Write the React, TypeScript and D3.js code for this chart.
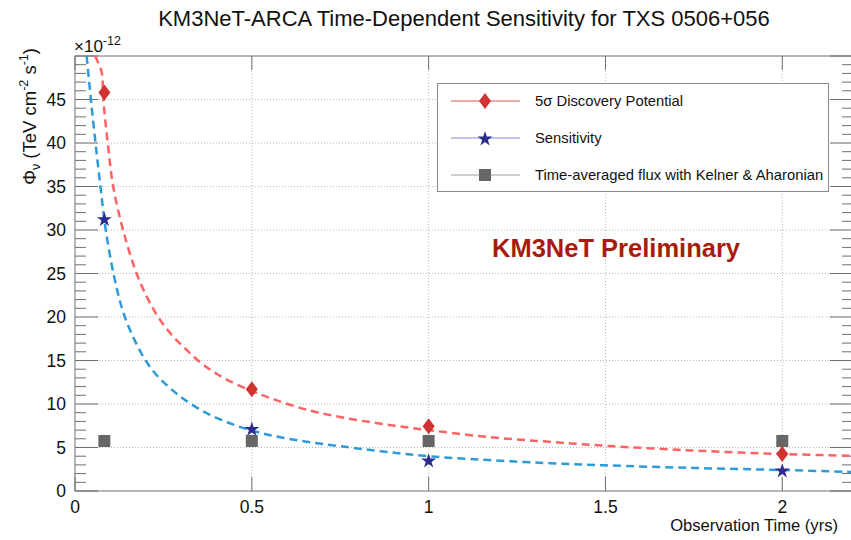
import * as d3 from "d3";

// observation times (yrs) of the computed points
const obsTimes = [0.083, 0.5, 1, 2];
const discovery = [45.8, 11.7, 7.45, 4.25];
const sensitivity = [31.3, 7.2, 3.56, 2.41];
const timeAveraged = [5.75, 5.75, 5.75, 5.75];

// dashed fit curves
const discFitX = [0.0565, 0.075, 0.08, 0.094, 0.108, 0.136, 0.179, 0.226, 0.27, 0.311, 0.36, 0.42, 0.5, 0.565, 0.65, 0.749, 0.87, 1.0, 1.17, 1.342, 1.5, 1.75, 2.0, 2.2];
const discFitY = [50, 48.2, 45, 39.5, 35, 30, 24.5, 20.6, 18.1, 16.4, 14.6, 13.0, 11.5, 10.5, 9.4, 8.5, 7.7, 7.0, 6.2, 5.65, 5.2, 4.65, 4.25, 4.05];
const sensFitX = [0.033, 0.045, 0.058, 0.072, 0.087, 0.113, 0.141, 0.188, 0.225, 0.264, 0.31, 0.37, 0.43, 0.5, 0.565, 0.65, 0.749, 0.87, 1.0, 1.17, 1.342, 1.5, 1.75, 2.0, 2.2];
const sensFitY = [50, 45, 40, 35, 30, 24.2, 20, 15.8, 13.6, 12, 10.5, 9.0, 7.9, 6.95, 6.3, 5.7, 5.15, 4.55, 4.0, 3.55, 3.2, 2.95, 2.65, 2.41, 2.18];

const xTicks = [0, 0.5, 1, 1.5, 2];
const xTickLabels = ["0", "0.5", "1", "1.5", "2"];
const yMajor = [0, 5, 10, 15, 20, 25, 30, 35, 40, 45];
const yMinor = d3.range(0, 51, 1);

const legendLabels = ["5σ Discovery Potential", "Sensitivity", "Time-averaged flux with Kelner & Aharonian"];

const W = 851;
const H = 540;
const frame = { left: 75, right: 853, top: 56, bottom: 491 };
const font = "'Liberation Sans', Arial, Helvetica, sans-serif";

const axisColor = "#6e6e6e";
const redFit = "#ff6262";
const blueFit = "#2e9bd8";
const redMark = "#d33232";
const blueMark = "#2c2c8e";
const grayMark = "#666666";

function Diamond({ x, y }: { x: number; y: number }) {
  return <path d={`M${x},${y - 8}L${x + 6},${y}L${x},${y + 8}L${x - 6},${y}Z`} fill={redMark} />;
}

function Star({ x, y }: { x: number; y: number }) {
  const d = d3.symbol(d3.symbolStar, 70)()!;
  return <path d={d} transform={`translate(${x},${y + 1})`} fill={blueMark} />;
}

function Square({ x, y }: { x: number; y: number }) {
  return <rect x={x - 6} y={y - 6} width={12} height={12} fill={grayMark} />;
}

export default function App() {
  const x = d3.scaleLinear().domain([0, 2.2]).range([frame.left, frame.right]);
  const y = d3.scaleLinear().domain([0, 50]).range([frame.bottom, frame.top]);

  const line = d3
    .line<[number, number]>()
    .x((d) => x(d[0]))
    .y((d) => y(d[1]))
    .curve(d3.curveCatmullRom.alpha(0.5));

  const discPath = line(discFitX.map((v, i) => [v, discFitY[i]]))!;
  const sensPath = line(sensFitX.map((v, i) => [v, sensFitY[i]]))!;

  const legendRows = [101, 138, 175];

  return (
    <svg width={W} height={H} style={{ position: "absolute", left: 0, top: 0, background: "#fff" }} fontFamily={font}>
      <defs>
        <clipPath id="frameClip">
          <rect x={frame.left} y={frame.top} width={frame.right - frame.left} height={frame.bottom - frame.top} />
        </clipPath>
      </defs>

      {/* title */}
      <text x={464} y={26} textAnchor="middle" fontSize={22} fill="#111">
        KM3NeT-ARCA Time-Dependent Sensitivity for TXS 0506+056
      </text>

      {/* grid */}
      <g stroke="#b8b8b8" strokeWidth={1} strokeDasharray="1,2">
        {xTicks.slice(1).map((t) => (
          <line key={"gx" + t} x1={x(t)} x2={x(t)} y1={frame.top} y2={frame.bottom} />
        ))}
        {yMajor.slice(1).map((t) => (
          <line key={"gy" + t} x1={frame.left} x2={frame.right} y1={y(t)} y2={y(t)} />
        ))}
      </g>

      {/* frame */}
      <rect
        x={frame.left}
        y={frame.top}
        width={frame.right - frame.left}
        height={frame.bottom - frame.top}
        fill="none"
        stroke={axisColor}
        strokeWidth={1}
      />

      {/* ticks */}
      <g stroke={axisColor} strokeWidth={1}>
        {yMinor.map((t) => {
          const len = t % 5 === 0 ? 23 : 11;
          return (
            <g key={"ty" + t}>
              <line x1={frame.left} x2={frame.left + len} y1={y(t)} y2={y(t)} />
              <line x1={frame.right} x2={frame.right - len} y1={y(t)} y2={y(t)} />
            </g>
          );
        })}
        {xTicks.map((t) => (
          <g key={"tx" + t}>
            <line x1={x(t)} x2={x(t)} y1={frame.bottom} y2={frame.bottom - 14} />
            <line x1={x(t)} x2={x(t)} y1={frame.top} y2={frame.top + 14} />
          </g>
        ))}
      </g>

      {/* tick labels */}
      <g fontSize={17.5} fill="#111">
        {yMajor.map((t) => (
          <text key={"ly" + t} x={frame.left - 9} y={y(t) + 6} textAnchor="end">
            {t}
          </text>
        ))}
        {xTicks.map((t, i) => (
          <text key={"lx" + t} x={x(t)} y={frame.bottom + 22} textAnchor="middle">
            {xTickLabels[i]}
          </text>
        ))}
      </g>

      {/* exponent */}
      <text x={74} y={52} fontSize={17} fill="#111">
        ×10<tspan dy={-7} fontSize={12.5}>-12</tspan>
      </text>

      {/* axis titles */}
      <text x={838} y={531} textAnchor="end" fontSize={16.6} fill="#111">
        Observation Time (yrs)
      </text>
      <text transform="translate(36,48) rotate(-90)" textAnchor="end" fontSize={18.5} fill="#111">
        Φ<tspan fontSize={12.5} dy={4}>ν</tspan>
        <tspan dy={-4}> (TeV cm</tspan>
        <tspan fontSize={12.5} dy={-8}>-2</tspan>
        <tspan dy={8}> s</tspan>
        <tspan fontSize={12.5} dy={-8}>-1</tspan>
        <tspan dy={8}>)</tspan>
      </text>

      {/* fit curves */}
      <g clipPath="url(#frameClip)" fill="none" strokeWidth={2.5} strokeDasharray="8,5">
        <path d={discPath} stroke={redFit} />
        <path d={sensPath} stroke={blueFit} />
      </g>

      {/* markers */}
      {obsTimes.map((t, i) => (
        <Square key={"sq" + i} x={x(t)} y={y(timeAveraged[i])} />
      ))}
      {obsTimes.map((t, i) => (
        <Diamond key={"di" + i} x={x(t)} y={y(discovery[i])} />
      ))}
      {obsTimes.map((t, i) => (
        <Star key={"st" + i} x={x(t)} y={y(sensitivity[i])} />
      ))}

      {/* preliminary label */}
      <text x={492} y={257} fontSize={25.5} fontWeight="bold" fill="#a81c0e">
        KM3NeT Preliminary
      </text>

      {/* legend */}
      <rect x={437.5} y={83.5} width={391} height={108} fill="#fff" stroke="#8a8a8a" strokeWidth={1} />
      <line x1={451} x2={520} y1={legendRows[0]} y2={legendRows[0]} stroke="#e05555" strokeWidth={1} />
      <line x1={451} x2={520} y1={legendRows[1]} y2={legendRows[1]} stroke="#8585d5" strokeWidth={1} />
      <line x1={451} x2={520} y1={legendRows[2]} y2={legendRows[2]} stroke="#a0a0a0" strokeWidth={1} />
      <Diamond x={485} y={legendRows[0]} />
      <Star x={485} y={legendRows[1]} />
      <Square x={485} y={legendRows[2]} />
      {legendLabels.map((l, i) => (
        <text key={l} x={535} y={legendRows[i] + 5} fontSize={14.8} fill="#111">
          {l}
        </text>
      ))}
    </svg>
  );
}
